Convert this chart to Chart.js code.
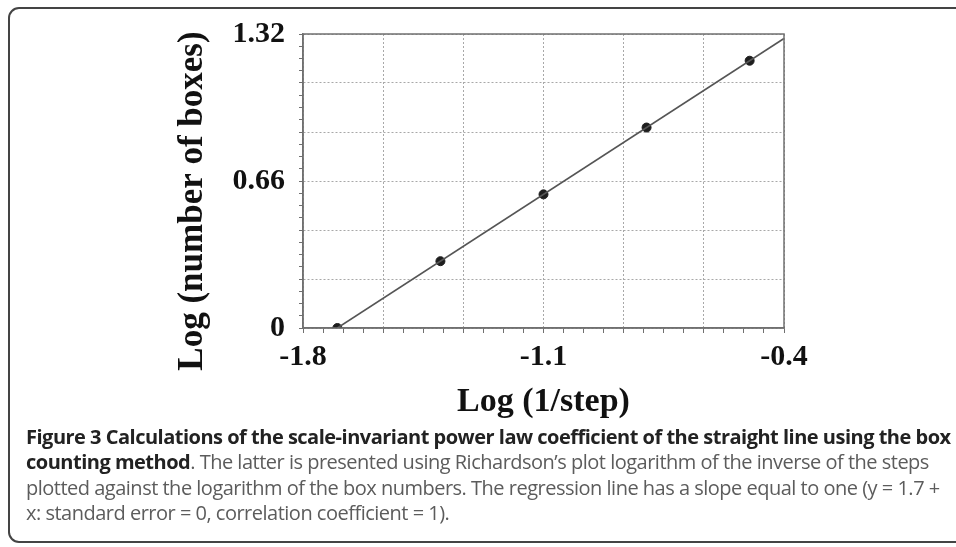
<!DOCTYPE html>
<html>
<head>
<meta charset="utf-8">
<script src="https://cdn.jsdelivr.net/npm/chart.js@4.4.1/dist/chart.umd.min.js"></script>
<style>
  html, body { margin: 0; padding: 0; background: #fff; }
  body { width: 956px; height: 547px; position: relative; overflow: hidden; }
  .frame {
    position: absolute; left: 8px; top: 7px; width: 980px; height: 536px;
    border: 2px solid #444; border-radius: 11px; box-sizing: border-box;
  }
  .chartBox { position: absolute; left: 0; top: 0; width: 956px; height: 430px; }
  .caption {
    position: absolute; left: 26px; top: 424px;
    font-family: "Open Sans", sans-serif; font-size: 20px; line-height: 25.3px;
    color: #5c5c5c; letter-spacing: -0.5px;
  }
  .caption div { white-space: nowrap; }
  .caption b { color: #222; font-weight: 700; }
</style>
</head>
<body>
<div class="frame"></div>
<div class="chartBox"><canvas id="boxChart" width="956" height="430"></canvas></div>
<div class="caption">
  <div><b>Figure 3 Calculations of the scale-invariant power law coefficient of the straight line using the box</b></div>
  <div><b>counting method</b>. The latter is presented using Richardson’s plot logarithm of the inverse of the steps</div>
  <div>plotted against the logarithm of the box numbers. The regression line has a slope equal to one (y = 1.7 +</div>
  <div>x: standard error = 0, correlation coefficient = 1).</div>
</div>
<script>
// measured points: log(1/step) vs log(number of boxes)
const logInvStep = [-1.7, -1.4, -1.1, -0.8, -0.5];
const logBoxes = [0, 0.3, 0.6, 0.9, 1.2];

// regression line y = 1.7 + x
const fitX = [-1.7, -0.4];
const fitY = [0, 1.3];

const xTickLabels = ['-1.8', '-1.1', '-0.4'];
const yTickLabels = ['0', '0.66', '1.32'];
const yTitle = 'Log (number of boxes)';

const xMin = -1.8, xMax = -0.4;
const yMin = 0, yMax = 1.32;
const minorPerLabel = 12;   // 24 minor ticks, gridline every 4th

function minorTicks(min, max) {
    const n = (xTickLabels.length - 1) * minorPerLabel;
    const ticks = [];
    for (let i = 0; i <= n; i++) {
        ticks.push({ value: min + (max - min) * i / n });
    }
    return ticks;
}

const serif = '"Liberation Serif", "Times New Roman", serif';

// closed frame round the plot + y title (it sits lower than the plot centre)
const frameBox = {
    id: 'frameBox',
    afterDatasetsDraw(chart) {
        const a = chart.chartArea;
        const ctx = chart.ctx;
        ctx.save();
        ctx.strokeStyle = '#707070';
        ctx.lineWidth = 1.5;
        ctx.strokeRect(a.left, a.top, a.right - a.left, a.bottom - a.top);
        ctx.restore();
    },
    afterDraw(chart) {
        const ctx = chart.ctx;
        ctx.save();
        ctx.translate(193, 201);
        ctx.rotate(-Math.PI / 2);
        ctx.font = 'bold 35px ' + serif;
        ctx.fillStyle = '#111';
        ctx.textAlign = 'center';
        ctx.textBaseline = 'middle';
        ctx.fillText(yTitle, 0, 0);
        ctx.restore();
    }
};

const ctx = document.getElementById('boxChart').getContext('2d');
new Chart(ctx, {
    type: 'scatter',
    data: {
        datasets: [{
            type: 'line',
            data: fitX.map((x, i) => ({ x: x, y: fitY[i] })),
            borderColor: '#555',
            borderWidth: 1.6,
            pointRadius: 0,
            fill: false
        }, {
            data: logInvStep.map((x, i) => ({ x: x, y: logBoxes[i] })),
            backgroundColor: '#1e1e1e',
            borderColor: '#1e1e1e',
            pointRadius: 4.5,
            pointHoverRadius: 4.5
        }]
    },
    plugins: [frameBox],
    options: {
        responsive: false,
        animation: false,
        layout: { padding: { left: 0, top: 34, right: 172, bottom: 0 } },
        plugins: {
            legend: { display: false },
            tooltip: { enabled: false }
        },
        scales: {
            x: {
                type: 'linear',
                min: xMin,
                max: xMax,
                afterBuildTicks: scale => { scale.ticks = minorTicks(xMin, xMax); },
                afterFit: scale => { scale.height = 102; },
                ticks: {
                    autoSkip: false,
                    maxRotation: 0,
                    padding: 6,
                    color: '#111',
                    font: { family: serif, size: 30, weight: 'bold' },
                    callback: (v, i) => i % minorPerLabel === 0 ? xTickLabels[i / minorPerLabel] : ''
                },
                grid: {
                    color: c => c.index % 4 === 0 ? '#a8a8a8' : 'rgba(0,0,0,0)',
                    tickColor: '#707070',
                    tickLength: 5,
                    lineWidth: 1
                },
                border: { display: true, color: '#707070', width: 1.5, dash: [2, 2] },
                title: {
                    display: true,
                    text: 'Log (1/step)',
                    color: '#111',
                    font: { family: serif, size: 34, weight: 'bold' },
                    padding: { top: 0, bottom: 7 }
                }
            },
            y: {
                type: 'linear',
                min: yMin,
                max: yMax,
                afterBuildTicks: scale => { scale.ticks = minorTicks(yMin, yMax); },
                afterFit: scale => { scale.width = 303; },
                ticks: {
                    autoSkip: false,
                    padding: 14,
                    color: '#111',
                    font: { family: serif, size: 30, weight: 'bold' },
                    callback: (v, i) => i % minorPerLabel === 0 ? yTickLabels[i / minorPerLabel] : ''
                },
                grid: {
                    color: c => c.index % 4 === 0 ? '#a8a8a8' : 'rgba(0,0,0,0)',
                    tickColor: '#707070',
                    tickLength: 4,
                    lineWidth: 1
                },
                border: { display: true, color: '#707070', width: 1.5, dash: [2, 2] },
                title: { display: false }
            }
        }
    }
});
</script>
</body>
</html>
